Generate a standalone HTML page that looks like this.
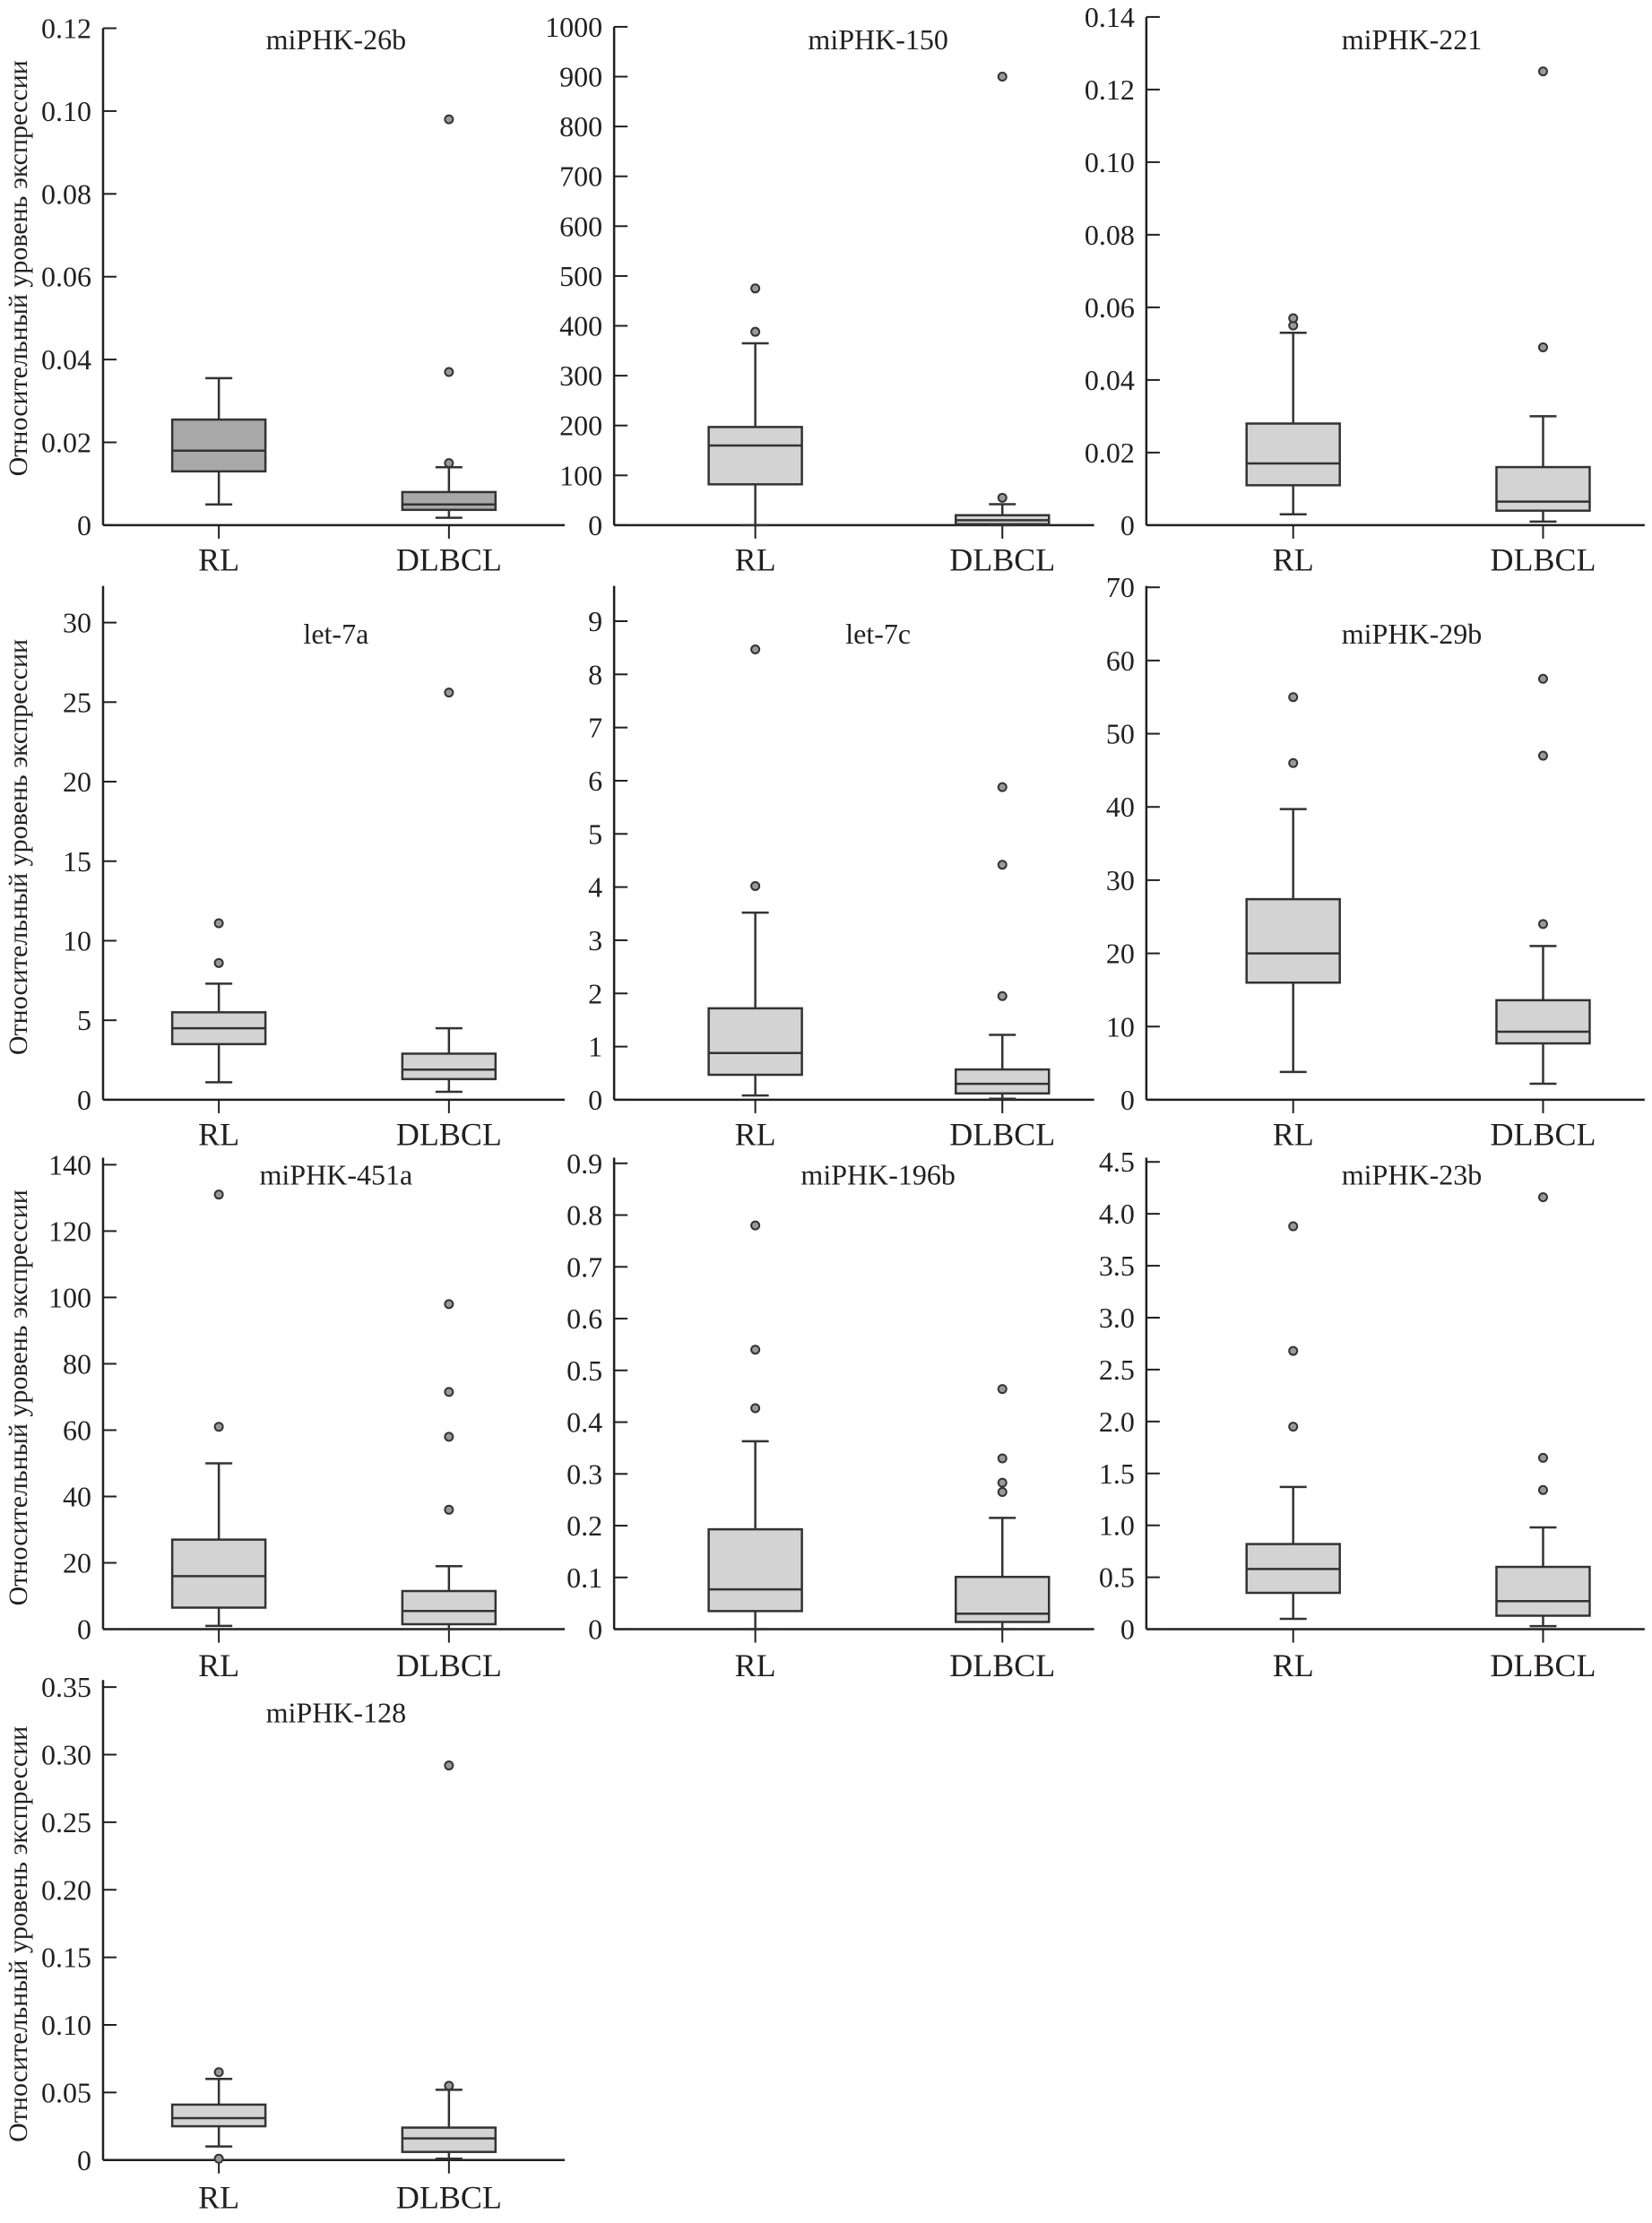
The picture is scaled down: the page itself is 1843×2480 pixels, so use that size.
<!DOCTYPE html>
<html><head><meta charset="utf-8"><style>
body{margin:0;background:#fff}
svg{display:block}
text{font-family:"Liberation Serif",serif;fill:#231f20}
</style></head><body>
<svg id="chart" width="1843" height="2480" viewBox="0 0 1843 2480" xmlns="http://www.w3.org/2000/svg"></svg>
<script>
const S=1.575;
const panelTitles=["miPHK-26b","miPHK-150","miPHK-221","let-7a","let-7c","miPHK-29b","miPHK-451a","miPHK-196b","miPHK-23b","miPHK-128"];
const categories=["RL","DLBCL"];
const tickLabels=[
 ["0","0.02","0.04","0.06","0.08","0.10","0.12"],
 ["0","100","200","300","400","500","600","700","800","900","1000"],
 ["0","0.02","0.04","0.06","0.08","0.10","0.12","0.14"],
 ["0","5","10","15","20","25","30"],
 ["0","1","2","3","4","5","6","7","8","9"],
 ["0","10","20","30","40","50","60","70"],
 ["0","20","40","60","80","100","120","140"],
 ["0","0.1","0.2","0.3","0.4","0.5","0.6","0.7","0.8","0.9"],
 ["0","0.5","1.0","1.5","2.0","2.5","3.0","3.5","4.0","4.5"],
 ["0","0.05","0.10","0.15","0.20","0.25","0.30","0.35"]];
// [whiskerLow, q1, median, q3, whiskerHigh] per panel per category
const statsRL=[[0.005,0.013,0.018,0.0255,0.0355],[0,82,160,197,365],[0.003,0.011,0.017,0.028,0.053],[1.1,3.5,4.5,5.5,7.3],[0.08,0.47,0.88,1.72,3.52],[3.8,16,20,27.4,39.7],[1,6.5,16,27,50],[0,0.035,0.077,0.193,0.363],[0.1,0.35,0.58,0.82,1.37],[0.01,0.025,0.031,0.041,0.06]];
const statsDLBCL=[[0.0018,0.0037,0.005,0.008,0.014],[0,2,10,20,42],[0.001,0.004,0.0065,0.016,0.03],[0.5,1.3,1.9,2.9,4.5],[0.02,0.12,0.3,0.57,1.22],[2.2,7.7,9.3,13.6,21],[0,1.5,5.5,11.5,19],[0,0.014,0.03,0.101,0.215],[0.03,0.13,0.27,0.6,0.98],[0.001,0.006,0.016,0.024,0.052]];
const outliersRL=[[],[388,475],[0.055,0.057],[8.6,11.1],[4.02,8.47],[46,55],[61,131],[0.427,0.54,0.78],[1.95,2.68,3.88],[0.001,0.065]];
const outliersDLBCL=[[0.015,0.037,0.098],[55,900],[0.049,0.125],[25.6],[1.95,4.42,5.88],[24,47,57.5],[36,58,71.5,98],[0.265,0.283,0.33,0.464],[1.34,1.65,4.16],[0.055,0.292]];

const NS="http://www.w3.org/2000/svg";
const svg=document.getElementById('chart');
function mk(tag,attrs,parent){const e=document.createElementNS(NS,tag);for(const k in attrs)e.setAttribute(k,attrs[k]);(parent||svg).appendChild(e);return e;}
// layout (display units *S)
const colAxisX=[73,435,812], colEnd=[400,775,1165];
const colCat=[[155,318],[535,710],[916,1093]];
const rowZero=[372,779,1154,1530], rowAxisTop=[null,415,820,1190];
const topTickY=[[20,19,12],[441,440,416],[825,824,823],[1195]];
const titleY=[28,449,832,1213], labY=[396,803,1179,1556], titleX=[238,622,1000];
const yTitleC=[190,600,990,1370];

for(let p=0;p<10;p++){
  const r=Math.floor(p/3), c=p%3;
  const g=mk('g',{});
  
  
  const x0=colAxisX[c]*S, x1=colEnd[c]*S, y0=rowZero[r]*S;
  const ticks=tickLabels[p];
  const maxV=parseFloat(ticks[ticks.length-1]);
  const yt=topTickY[r][c]*S;
  const yScale=v=>y0-(v/maxV)*(y0-yt);
  const axTop=rowAxisTop[r]?rowAxisTop[r]*S:yt;
  const ya=mk('line',{x1:x0,y1:axTop,x2:x0,y2:y0,stroke:'#231f20','stroke-width':2.5},g);
  
  
  const xa=mk('line',{x1:x0,y1:y0,x2:x1,y2:y0,stroke:'#231f20','stroke-width':2.5},g);
  
  
  ticks.forEach(t=>{
    const y=yScale(parseFloat(t));
    mk('line',{x1:x0,y1:y,x2:x0+15,y2:y,stroke:'#231f20','stroke-width':2},g);
    const tx=mk('text',{x:x0-13,y:y+11,'text-anchor':'end','font-size':32},g);
    tx.textContent=t;
    
    
  });
  const ti=mk('text',{x:titleX[c]*S,y:titleY[r]*S+11,'text-anchor':'middle','font-size':32},g);
  ti.textContent=panelTitles[p];
  
  
  if(c===0){
    const cy=yTitleC[r]*S;
    const yt2=mk('text',{x:0,y:0,'text-anchor':'middle','font-size':30,transform:`translate(30,${cy}) rotate(-90)`},g);
    yt2.textContent='Относительный уровень экспрессии';
    
    
  }
  const fill=p===0?'#a8a8a8':'#d3d3d3';
  [statsRL[p],statsDLBCL[p]].forEach((st,ci)=>{
    const cx=colCat[c][ci]*S;
    mk('line',{x1:cx,y1:y0,x2:cx,y2:y0+15,stroke:'#231f20','stroke-width':2},g);
    const lb=mk('text',{x:cx,y:labY[r]*S+13,'text-anchor':'middle','font-size':36},g);
    lb.textContent=categories[ci];
    
    
    const bg=mk('g',{},g);
    
    
    const [lo,q1,md,q3,hi]=st;
    const w=52, cw=15;
    mk('line',{x1:cx,y1:yScale(lo),x2:cx,y2:yScale(q1),stroke:'#333','stroke-width':2.5},bg);
    mk('line',{x1:cx,y1:yScale(q3),x2:cx,y2:yScale(hi),stroke:'#333','stroke-width':2.5},bg);
    mk('line',{x1:cx-cw,y1:yScale(lo),x2:cx+cw,y2:yScale(lo),stroke:'#333','stroke-width':2.5},bg);
    mk('line',{x1:cx-cw,y1:yScale(hi),x2:cx+cw,y2:yScale(hi),stroke:'#333','stroke-width':2.5},bg);
    mk('rect',{x:cx-w,y:yScale(q3),width:2*w,height:Math.max(1,yScale(q1)-yScale(q3)),fill:fill,stroke:'#333','stroke-width':2.5},bg);
    mk('line',{x1:cx-w,y1:yScale(md),x2:cx+w,y2:yScale(md),stroke:'#333','stroke-width':2.5},bg);
    const outs=ci===0?outliersRL[p]:outliersDLBCL[p];
    outs.forEach(v=>{
      const o=mk('circle',{cx:cx,cy:yScale(v),r:4.5,fill:'#999',stroke:'#333','stroke-width':2},bg);
      
      
    });
  });
}
</script>
</body></html>
